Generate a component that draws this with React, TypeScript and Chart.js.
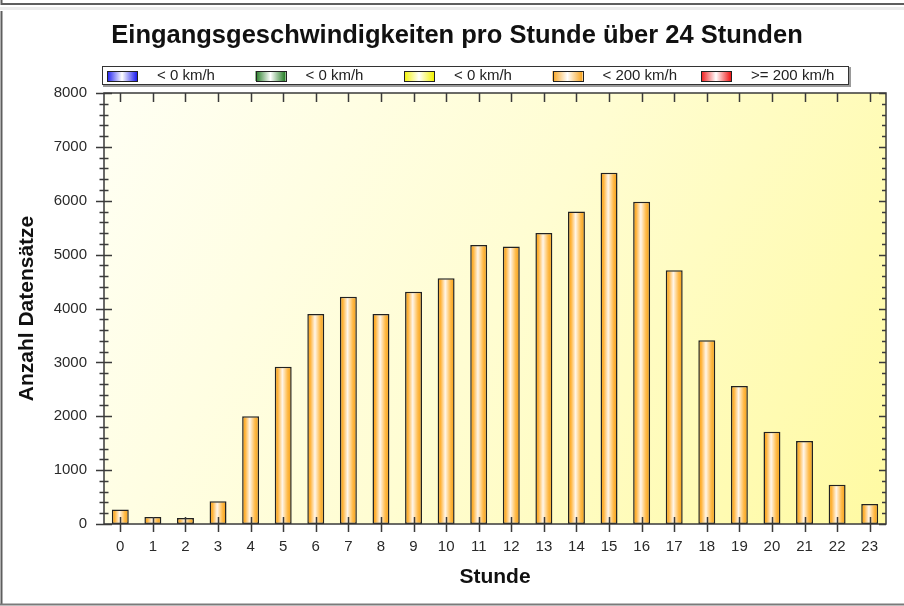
import React, { useEffect, useRef } from "react";
import { Chart, registerables } from "chart.js";

Chart.register(...registerables);

const FONT = "'Liberation Sans', Arial, Helvetica, sans-serif";

// ---- data ----
const hours = ["0", "1", "2", "3", "4", "5", "6", "7", "8", "9", "10", "11", "12", "13", "14", "15", "16", "17", "18", "19", "20", "21", "22", "23"];
const countsBlueBelow0 = [0, 0, 0, 0, 0, 0, 0, 0, 0, 0, 0, 0, 0, 0, 0, 0, 0, 0, 0, 0, 0, 0, 0, 0];
const countsGreenBelow0 = [0, 0, 0, 0, 0, 0, 0, 0, 0, 0, 0, 0, 0, 0, 0, 0, 0, 0, 0, 0, 0, 0, 0, 0];
const countsYellowBelow0 = [0, 0, 0, 0, 0, 0, 0, 0, 0, 0, 0, 0, 0, 0, 0, 0, 0, 0, 0, 0, 0, 0, 0, 0];
const countsBelow200 = [270, 130, 110, 420, 2000, 2920, 3900, 4220, 3900, 4310, 4560, 5180, 5150, 5400, 5800, 6520, 5980, 4710, 3410, 2560, 1710, 1540, 730, 370];
const countsAtLeast200 = [0, 0, 0, 0, 0, 0, 0, 0, 0, 0, 0, 0, 0, 0, 0, 0, 0, 0, 0, 0, 0, 0, 0, 0];
const seriesLabels = ["< 0 km/h", "< 0 km/h", "< 0 km/h", "< 200 km/h", ">= 200 km/h"];
const yMin = 0;
const yMax = 8000;
const yStep = 1000;
const yMinorStep = 200;

const TITLE = "Eingangsgeschwindigkeiten pro Stunde über 24 Stunden";
const Y_TITLE = "Anzahl Datensätze";
const X_TITLE = "Stunde";

// ---- styles ----
const seriesEdgeColors = ["#1c1cf0", "#1f7a1f", "#f2f200", "#f8a21a", "#f01414"];
const BAR_PCT = 0.52;

function barGradient(ctx: CanvasRenderingContext2D, x0: number, x1: number, edge: string) {
  const g = ctx.createLinearGradient(x0, 0, x1, 0);
  g.addColorStop(0, "#f39a0c");
  g.addColorStop(0.18, "#ffb43c");
  g.addColorStop(0.45, "#fff6ea");
  g.addColorStop(0.75, "#ffbc4c");
  g.addColorStop(1, "#f39a0c");
  return g;
}

function swatchGradient(ctx: CanvasRenderingContext2D, x0: number, x1: number, edge: string) {
  const g = ctx.createLinearGradient(x0, 0, x1, 0);
  g.addColorStop(0, edge);
  g.addColorStop(0.5, "#ffffff");
  g.addColorStop(1, edge);
  return g;
}

const decorPlugin = {
  id: "decor",
  beforeDraw(chart: any) {
    const { ctx, width, height } = chart;
    const a = chart.chartArea;
    ctx.save();
    ctx.fillStyle = "#ffffff";
    ctx.fillRect(0, 0, width, height);
    // upper strip frame
    ctx.strokeStyle = "#5e5e5e";
    ctx.lineWidth = 2;
    ctx.beginPath();
    ctx.moveTo(1.5, 0);
    ctx.lineTo(1.5, 4);
    ctx.lineTo(width, 4);
    ctx.stroke();
    ctx.fillStyle = "#ececec";
    ctx.fillRect(0, 7, width, 3);
    // main panel frame
    ctx.strokeStyle = "#5e5e5e";
    ctx.beginPath();
    ctx.moveTo(1.5, 11);
    ctx.lineTo(1.5, height - 1.5);
    ctx.stroke();
    ctx.strokeStyle = "#7a7a7a";
    ctx.beginPath();
    ctx.moveTo(0, height - 1.5);
    ctx.lineTo(width, height - 1.5);
    ctx.stroke();
    // plot background
    if (a && isFinite(a.left) && isFinite(a.bottom)) {
      const g = ctx.createLinearGradient(a.left, a.top, a.right, a.bottom);
      g.addColorStop(0, "#fffff4");
      g.addColorStop(0.5, "#fffdd2");
      g.addColorStop(1, "#fffaa2");
      ctx.fillStyle = g;
      ctx.fillRect(a.left, a.top, a.right - a.left, a.bottom - a.top);
    }
    ctx.restore();
  },
  afterDatasetsDraw(chart: any) {
    const { ctx } = chart;
    const a = chart.chartArea;
    const ys = chart.scales.y;
    const xs = chart.scales.x;
    ctx.save();
    ctx.strokeStyle = "#3a3a3a";
    ctx.lineWidth = 1.5;
    ctx.strokeRect(a.left, a.top, a.right - a.left, a.bottom - a.top);
    ctx.beginPath();
    for (let v = ys.min; v <= ys.max; v += yMinorStep) {
      const py = Math.round(ys.getPixelForValue(v)) + 0.5;
      const major = v % yStep === 0;
      const l = major ? 8 : 4.5;
      ctx.moveTo(a.left - l, py);
      ctx.lineTo(a.left + l, py);
      const r = major ? 7 : 4;
      ctx.moveTo(a.right - r, py);
      ctx.lineTo(a.right, py);
    }
    for (let i = 0; i < chart.data.labels.length; i++) {
      const px = Math.round(xs.getPixelForValue(i)) + 0.5;
      ctx.moveTo(px, a.top);
      ctx.lineTo(px, a.top + 9);
      ctx.moveTo(px, a.bottom - 7);
      ctx.lineTo(px, a.bottom + 8);
    }
    ctx.stroke();
    ctx.restore();
  },
  afterDraw(chart: any) {
    const { ctx } = chart;
    const a = chart.chartArea;
    const boxL = a.left - 2;
    const boxT = 66;
    const boxW = 747;
    const boxH = 19;
    ctx.save();
    ctx.fillStyle = "#9a9a9a";
    ctx.fillRect(boxL + 1, boxT + 1, boxW + 1, boxH + 1);
    ctx.fillStyle = "#ffffff";
    ctx.fillRect(boxL, boxT, boxW, boxH);
    ctx.strokeStyle = "#333333";
    ctx.lineWidth = 1;
    ctx.strokeRect(boxL + 0.5, boxT + 0.5, boxW - 1, boxH - 1);
    chart.data.datasets.forEach((ds: any, i: number) => {
      const sx = boxL + 5 + i * 148.5;
      const sy = boxT + 5;
      ctx.fillStyle = swatchGradient(ctx, sx, sx + 30, seriesEdgeColors[i]);
      ctx.fillRect(sx, sy, 30, 10);
      ctx.strokeStyle = "#222222";
      ctx.strokeRect(Math.round(sx) + 0.5, sy + 0.5, 30, 10);
      ctx.fillStyle = "#222222";
      ctx.font = `15px ${FONT}`;
      ctx.textAlign = "left";
      ctx.textBaseline = "middle";
      ctx.fillText(ds.label, sx + 50, boxT + boxH / 2 + 0.5);
    });
    ctx.restore();
  },
};

function makeDataset(label: string, data: number[], idx: number) {
  const edge = seriesEdgeColors[idx];
  return {
    label,
    data,
    borderColor: "#222222",
    borderWidth: 1.5,
    borderSkipped: false as const,
    barPercentage: BAR_PCT,
    categoryPercentage: 1,
    backgroundColor: (c: any) => {
      const chart = c.chart;
      const xs = chart.scales && chart.scales.x;
      if (!xs || c.dataIndex === undefined) return edge;
      const cx = xs.getPixelForValue(c.dataIndex);
      const half = ((xs.getPixelForValue(1) - xs.getPixelForValue(0)) * BAR_PCT) / 2;
      if (!isFinite(cx) || !isFinite(half) || half <= 0) return edge;
      return barGradient(chart.ctx, cx - half, cx + half, edge);
    },
  };
}

export default function App() {
  const ref = useRef<HTMLCanvasElement | null>(null);
  useEffect(() => {
    document.body.style.margin = "0";
    if (!ref.current) return;
    Chart.defaults.font.family = FONT;
    const chart = new Chart(ref.current, {
      type: "bar",
      data: {
        labels: hours,
        datasets: [
          makeDataset(seriesLabels[0], countsBlueBelow0, 0),
          makeDataset(seriesLabels[1], countsGreenBelow0, 1),
          makeDataset(seriesLabels[2], countsYellowBelow0, 2),
          makeDataset(seriesLabels[3], countsBelow200, 3),
          makeDataset(seriesLabels[4], countsAtLeast200, 4),
        ],
      },
      options: {
        responsive: false,
        maintainAspectRatio: false,
        animation: false,
        events: [],
        layout: { padding: { left: 10, right: 0, top: 0, bottom: 0 } },
        plugins: {
          legend: { display: false },
          tooltip: { enabled: false },
          title: {
            display: true,
            text: TITLE,
            color: "#111111",
            font: { size: 25.5, weight: "bold", family: FONT },
            padding: { top: 21, bottom: 41.4 },
          },
        },
        scales: {
          x: {
            stacked: true,
            grid: { display: false, drawTicks: false },
            border: { display: false },
            ticks: { padding: 14, color: "#2a2a2a", maxRotation: 0, autoSkip: false, font: { size: 15, family: FONT } },
            title: {
              display: true,
              text: X_TITLE,
              color: "#111111",
              font: { size: 21, weight: "bold", family: FONT },
              padding: { top: 0, bottom: 15.7 },
            },
            afterFit: (s: any) => {
              s.height = 82;
            },
          },
          y: {
            stacked: true,
            position: "left",
            min: yMin,
            max: yMax,
            grid: { display: false, drawTicks: false },
            border: { display: false },
            ticks: {
              stepSize: yStep,
              padding: 17,
              color: "#2a2a2a",
              font: { size: 15, family: FONT },
              callback: (v: any) => String(v),
            },
            title: {
              display: true,
              text: Y_TITLE,
              color: "#111111",
              font: { size: 21, weight: "bold", family: FONT },
              padding: { top: 5, bottom: 0 },
            },
            afterFit: (s: any) => {
              s.width = 94;
            },
          },
          y2: {
            position: "right",
            display: true,
            min: yMin,
            max: yMax,
            grid: { display: false, drawTicks: false },
            border: { display: false },
            ticks: { display: false },
            afterFit: (s: any) => {
              s.width = 18;
            },
          },
        },
      },
      plugins: [decorPlugin],
    } as any);
    return () => chart.destroy();
  }, []);
  return (
    <div style={{ width: 904, height: 606 }}>
      <canvas ref={ref} width={904} height={606} style={{ display: "block" }} />
    </div>
  );
}
